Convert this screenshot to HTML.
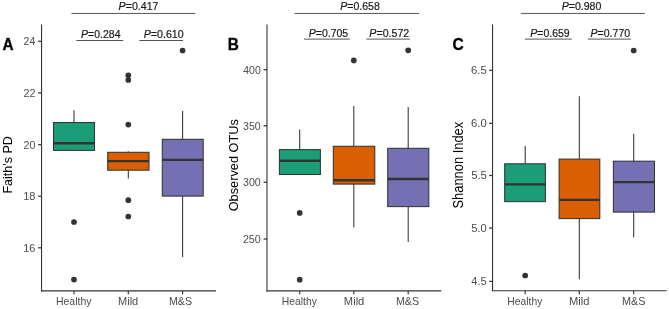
<!DOCTYPE html>
<html><head><meta charset="utf-8"><style>
html,body{margin:0;padding:0;background:#fff;}
svg{display:block;will-change:transform;}
text{font-family:'Liberation Sans', sans-serif;}
</style></head><body>
<svg width="669" height="309" viewBox="0 0 669 309">
<rect width="669" height="309" fill="#fff"/>
<text x="2.62" y="50" font-size="16.28" textLength="11.09" lengthAdjust="spacingAndGlyphs" fill="#000" font-weight="bold" stroke="#000" stroke-width="0.3">A</text>
<text transform="translate(12.2 193.53) rotate(-90)" x="0" y="0" font-size="12.56" textLength="57.33" lengthAdjust="spacingAndGlyphs" fill="#000">Faith's PD</text>
<text x="23.57" y="45.1" font-size="10.6" textLength="11.74" lengthAdjust="spacingAndGlyphs" fill="#4D4D4D">24</text>
<line x1="38.15" y1="41.3" x2="41.55" y2="41.3" stroke="#333333" stroke-width="1.25"/>
<text x="23.56" y="96.7" font-size="10.6" textLength="11.98" lengthAdjust="spacingAndGlyphs" fill="#4D4D4D">22</text>
<line x1="38.15" y1="92.9" x2="41.55" y2="92.9" stroke="#333333" stroke-width="1.25"/>
<text x="23.56" y="148.5" font-size="10.6" textLength="11.85" lengthAdjust="spacingAndGlyphs" fill="#4D4D4D">20</text>
<line x1="38.15" y1="144.7" x2="41.55" y2="144.7" stroke="#333333" stroke-width="1.25"/>
<text x="23.26" y="200" font-size="10.6" textLength="12.21" lengthAdjust="spacingAndGlyphs" fill="#4D4D4D">18</text>
<line x1="38.15" y1="196.2" x2="41.55" y2="196.2" stroke="#333333" stroke-width="1.25"/>
<text x="23.26" y="251.6" font-size="10.6" textLength="12.22" lengthAdjust="spacingAndGlyphs" fill="#4D4D4D">16</text>
<line x1="38.15" y1="247.8" x2="41.55" y2="247.8" stroke="#333333" stroke-width="1.25"/>
<line x1="74" y1="290.9" x2="74" y2="294.3" stroke="#333333" stroke-width="1.15"/>
<text x="56.04" y="304.8" font-size="11.04" textLength="35.38" lengthAdjust="spacingAndGlyphs" fill="#4D4D4D">Healthy</text>
<line x1="128.3" y1="290.9" x2="128.3" y2="294.3" stroke="#333333" stroke-width="1.15"/>
<text x="118" y="304.7" font-size="10.9" textLength="20.22" lengthAdjust="spacingAndGlyphs" fill="#4D4D4D">Mild</text>
<line x1="182.6" y1="290.9" x2="182.6" y2="294.3" stroke="#333333" stroke-width="1.15"/>
<text x="168.93" y="304.7" font-size="11.17" textLength="23.06" lengthAdjust="spacingAndGlyphs" fill="#4D4D4D">M&amp;S</text>
<line x1="74" y1="110.3" x2="74" y2="122.5" stroke="#333333" stroke-width="1.05"/>
<rect x="53.5" y="122.5" width="41" height="27.9" fill="#1B9E77" stroke="#333333" stroke-width="1.05"/>
<line x1="53.5" y1="143.3" x2="94.5" y2="143.3" stroke="#333333" stroke-width="2.4"/>
<circle cx="74" cy="222" r="2.85" fill="#333333"/>
<circle cx="74" cy="279.6" r="2.85" fill="#333333"/>
<line x1="128.3" y1="151.3" x2="128.3" y2="152.3" stroke="#333333" stroke-width="1.05"/>
<line x1="128.3" y1="170.2" x2="128.3" y2="178.4" stroke="#333333" stroke-width="1.05"/>
<rect x="107.7" y="152.3" width="41.3" height="17.9" fill="#D95F02" stroke="#333333" stroke-width="1.05"/>
<line x1="107.7" y1="161.1" x2="149" y2="161.1" stroke="#333333" stroke-width="2.4"/>
<circle cx="128.3" cy="75.3" r="2.85" fill="#333333"/>
<circle cx="128.3" cy="80" r="2.85" fill="#333333"/>
<circle cx="128.3" cy="124.6" r="2.85" fill="#333333"/>
<circle cx="128.3" cy="200.2" r="2.85" fill="#333333"/>
<circle cx="128.3" cy="216.5" r="2.85" fill="#333333"/>
<line x1="182.6" y1="111" x2="182.6" y2="139.3" stroke="#333333" stroke-width="1.05"/>
<line x1="182.6" y1="196.1" x2="182.6" y2="256.9" stroke="#333333" stroke-width="1.05"/>
<rect x="162.3" y="139.3" width="40.9" height="56.8" fill="#7570B3" stroke="#333333" stroke-width="1.05"/>
<line x1="162.3" y1="159.9" x2="203.2" y2="159.9" stroke="#333333" stroke-width="2.4"/>
<circle cx="182.6" cy="50.5" r="2.85" fill="#333333"/>
<line x1="41.55" y1="24.5" x2="41.55" y2="291.45" stroke="#333333" stroke-width="1.1"/>
<line x1="41" y1="290.9" x2="216" y2="290.9" stroke="#333333" stroke-width="1.1"/>
<line x1="71.4" y1="13.45" x2="195.3" y2="13.45" stroke="#555" stroke-width="1"/>
<text x="118.57" y="9.9" font-size="11.17" textLength="39.96" lengthAdjust="spacingAndGlyphs" fill="#1a1a1a" stroke="#1a1a1a" stroke-width="0.2"><tspan font-style="italic">P</tspan>=0.417</text>
<line x1="76.3" y1="40.5" x2="123.2" y2="40.5" stroke="#555" stroke-width="1"/>
<text x="81.08" y="37.7" font-size="10.45" textLength="39.43" lengthAdjust="spacingAndGlyphs" fill="#1a1a1a" stroke="#1a1a1a" stroke-width="0.2"><tspan font-style="italic">P</tspan>=0.284</text>
<line x1="139.4" y1="40.5" x2="183" y2="40.5" stroke="#555" stroke-width="1"/>
<text x="143.67" y="37.7" font-size="10.45" textLength="40.04" lengthAdjust="spacingAndGlyphs" fill="#1a1a1a" stroke="#1a1a1a" stroke-width="0.2"><tspan font-style="italic">P</tspan>=0.610</text>
<text x="227.67" y="49.7" font-size="16.13" textLength="11.13" lengthAdjust="spacingAndGlyphs" fill="#000" font-weight="bold" stroke="#000" stroke-width="0.3">B</text>
<text transform="translate(237.7 211.3) rotate(-90)" x="0" y="0" font-size="12.97" textLength="92.17" lengthAdjust="spacingAndGlyphs" fill="#000">Observed OTUs</text>
<text x="243.26" y="73.5" font-size="10.6" textLength="17.45" lengthAdjust="spacingAndGlyphs" fill="#4D4D4D">400</text>
<line x1="263.6" y1="69.7" x2="267" y2="69.7" stroke="#333333" stroke-width="1.25"/>
<text x="243.1" y="129.6" font-size="10.6" textLength="17.61" lengthAdjust="spacingAndGlyphs" fill="#4D4D4D">350</text>
<line x1="263.6" y1="125.8" x2="267" y2="125.8" stroke="#333333" stroke-width="1.25"/>
<text x="243.1" y="186" font-size="10.6" textLength="17.61" lengthAdjust="spacingAndGlyphs" fill="#4D4D4D">300</text>
<line x1="263.6" y1="182.2" x2="267" y2="182.2" stroke="#333333" stroke-width="1.25"/>
<text x="242.96" y="242.8" font-size="10.6" textLength="17.75" lengthAdjust="spacingAndGlyphs" fill="#4D4D4D">250</text>
<line x1="263.6" y1="239" x2="267" y2="239" stroke="#333333" stroke-width="1.25"/>
<line x1="299.7" y1="290.9" x2="299.7" y2="294.3" stroke="#333333" stroke-width="1.15"/>
<text x="281.75" y="304.8" font-size="11.04" textLength="35.17" lengthAdjust="spacingAndGlyphs" fill="#4D4D4D">Healthy</text>
<line x1="353.8" y1="290.9" x2="353.8" y2="294.3" stroke="#333333" stroke-width="1.15"/>
<text x="343.89" y="304.7" font-size="10.9" textLength="20.43" lengthAdjust="spacingAndGlyphs" fill="#4D4D4D">Mild</text>
<line x1="408.2" y1="290.9" x2="408.2" y2="294.3" stroke="#333333" stroke-width="1.15"/>
<text x="395.92" y="304.7" font-size="11.17" textLength="23.27" lengthAdjust="spacingAndGlyphs" fill="#4D4D4D">M&amp;S</text>
<line x1="299.7" y1="129.5" x2="299.7" y2="149.6" stroke="#333333" stroke-width="1.05"/>
<rect x="279.4" y="149.6" width="41" height="24.9" fill="#1B9E77" stroke="#333333" stroke-width="1.05"/>
<line x1="279.4" y1="160.7" x2="320.4" y2="160.7" stroke="#333333" stroke-width="2.4"/>
<circle cx="299.7" cy="212.9" r="2.85" fill="#333333"/>
<circle cx="299.7" cy="279.7" r="2.85" fill="#333333"/>
<line x1="353.8" y1="106.1" x2="353.8" y2="146.3" stroke="#333333" stroke-width="1.05"/>
<line x1="353.8" y1="184.1" x2="353.8" y2="227.6" stroke="#333333" stroke-width="1.05"/>
<rect x="333.3" y="146.3" width="41.5" height="37.8" fill="#D95F02" stroke="#333333" stroke-width="1.05"/>
<line x1="333.3" y1="180.2" x2="374.8" y2="180.2" stroke="#333333" stroke-width="2.4"/>
<circle cx="353.8" cy="60.4" r="2.85" fill="#333333"/>
<line x1="408.2" y1="107" x2="408.2" y2="148.3" stroke="#333333" stroke-width="1.05"/>
<line x1="408.2" y1="206.6" x2="408.2" y2="242.1" stroke="#333333" stroke-width="1.05"/>
<rect x="387.7" y="148.3" width="41.1" height="58.3" fill="#7570B3" stroke="#333333" stroke-width="1.05"/>
<line x1="387.7" y1="179" x2="428.8" y2="179" stroke="#333333" stroke-width="2.4"/>
<circle cx="408.2" cy="50.3" r="2.85" fill="#333333"/>
<line x1="267" y1="24.5" x2="267" y2="291.45" stroke="#333333" stroke-width="1.1"/>
<line x1="266.45" y1="290.9" x2="441.3" y2="290.9" stroke="#333333" stroke-width="1.1"/>
<line x1="294.6" y1="13.45" x2="419" y2="13.45" stroke="#555" stroke-width="1"/>
<text x="340.28" y="9.8" font-size="10.74" textLength="39.48" lengthAdjust="spacingAndGlyphs" fill="#1a1a1a" stroke="#1a1a1a" stroke-width="0.2"><tspan font-style="italic">P</tspan>=0.658</text>
<line x1="303.9" y1="39.1" x2="349.8" y2="39.1" stroke="#555" stroke-width="1"/>
<text x="308.78" y="36.8" font-size="11.03" textLength="39.36" lengthAdjust="spacingAndGlyphs" fill="#1a1a1a" stroke="#1a1a1a" stroke-width="0.2"><tspan font-style="italic">P</tspan>=0.705</text>
<line x1="366.4" y1="39.1" x2="409.9" y2="39.1" stroke="#555" stroke-width="1"/>
<text x="369.37" y="36.8" font-size="11.03" textLength="39.86" lengthAdjust="spacingAndGlyphs" fill="#1a1a1a" stroke="#1a1a1a" stroke-width="0.2"><tspan font-style="italic">P</tspan>=0.572</text>
<text x="452.46" y="49.9" font-size="16.33" textLength="11.27" lengthAdjust="spacingAndGlyphs" fill="#000" font-weight="bold" stroke="#000" stroke-width="0.3">C</text>
<text transform="translate(463.2 208.49) rotate(-90)" x="0" y="0" font-size="14.9" textLength="86.72" lengthAdjust="spacingAndGlyphs" fill="#000">Shannon Index</text>
<text x="471.02" y="74.1" font-size="10.6" textLength="15.75" lengthAdjust="spacingAndGlyphs" fill="#4D4D4D">6.5</text>
<line x1="489.15" y1="70.3" x2="492.55" y2="70.3" stroke="#333333" stroke-width="1.25"/>
<text x="471.03" y="127.1" font-size="10.6" textLength="15.72" lengthAdjust="spacingAndGlyphs" fill="#4D4D4D">6.0</text>
<line x1="489.15" y1="123.3" x2="492.55" y2="123.3" stroke="#333333" stroke-width="1.25"/>
<text x="471.15" y="179.3" font-size="10.76" textLength="15.62" lengthAdjust="spacingAndGlyphs" fill="#4D4D4D">5.5</text>
<line x1="489.15" y1="175.5" x2="492.55" y2="175.5" stroke="#333333" stroke-width="1.25"/>
<text x="471.15" y="231.9" font-size="10.6" textLength="15.59" lengthAdjust="spacingAndGlyphs" fill="#4D4D4D">5.0</text>
<line x1="489.15" y1="228.1" x2="492.55" y2="228.1" stroke="#333333" stroke-width="1.25"/>
<text x="471.35" y="285.2" font-size="10.76" textLength="15.42" lengthAdjust="spacingAndGlyphs" fill="#4D4D4D">4.5</text>
<line x1="489.15" y1="281.4" x2="492.55" y2="281.4" stroke="#333333" stroke-width="1.25"/>
<line x1="525.2" y1="290.8" x2="525.2" y2="294.2" stroke="#333333" stroke-width="1.15"/>
<text x="507.25" y="304.8" font-size="11.04" textLength="35.07" lengthAdjust="spacingAndGlyphs" fill="#4D4D4D">Healthy</text>
<line x1="579.3" y1="290.8" x2="579.3" y2="294.2" stroke="#333333" stroke-width="1.15"/>
<text x="568.99" y="304.7" font-size="10.9" textLength="20.43" lengthAdjust="spacingAndGlyphs" fill="#4D4D4D">Mild</text>
<line x1="633.7" y1="290.8" x2="633.7" y2="294.2" stroke="#333333" stroke-width="1.15"/>
<text x="622.01" y="304.7" font-size="11.17" textLength="23.38" lengthAdjust="spacingAndGlyphs" fill="#4D4D4D">M&amp;S</text>
<line x1="525.2" y1="146.1" x2="525.2" y2="163.8" stroke="#333333" stroke-width="1.05"/>
<rect x="504.7" y="163.8" width="40.7" height="37.8" fill="#1B9E77" stroke="#333333" stroke-width="1.05"/>
<line x1="504.7" y1="184.4" x2="545.4" y2="184.4" stroke="#333333" stroke-width="2.4"/>
<circle cx="525.2" cy="275.5" r="2.85" fill="#333333"/>
<line x1="579.3" y1="96.3" x2="579.3" y2="159.1" stroke="#333333" stroke-width="1.05"/>
<line x1="579.3" y1="218.6" x2="579.3" y2="279.3" stroke="#333333" stroke-width="1.05"/>
<rect x="559.1" y="159.1" width="40.7" height="59.5" fill="#D95F02" stroke="#333333" stroke-width="1.05"/>
<line x1="559.1" y1="199.9" x2="599.8" y2="199.9" stroke="#333333" stroke-width="2.4"/>
<line x1="633.7" y1="133.7" x2="633.7" y2="161.2" stroke="#333333" stroke-width="1.05"/>
<line x1="633.7" y1="212.1" x2="633.7" y2="237.4" stroke="#333333" stroke-width="1.05"/>
<rect x="613.4" y="161.2" width="41.1" height="50.9" fill="#7570B3" stroke="#333333" stroke-width="1.05"/>
<line x1="613.4" y1="182.1" x2="654.5" y2="182.1" stroke="#333333" stroke-width="2.4"/>
<circle cx="633.7" cy="50.5" r="2.85" fill="#333333"/>
<line x1="492.55" y1="24.5" x2="492.55" y2="291.35" stroke="#333333" stroke-width="1.1"/>
<line x1="492" y1="290.8" x2="666.8" y2="290.8" stroke="#333333" stroke-width="1.1"/>
<line x1="521" y1="13.45" x2="644.8" y2="13.45" stroke="#555" stroke-width="1"/>
<text x="561.67" y="9.8" font-size="10.74" textLength="39.74" lengthAdjust="spacingAndGlyphs" fill="#1a1a1a" stroke="#1a1a1a" stroke-width="0.2"><tspan font-style="italic">P</tspan>=0.980</text>
<line x1="524.9" y1="39.1" x2="571.8" y2="39.1" stroke="#555" stroke-width="1"/>
<text x="530.28" y="36.8" font-size="11.46" textLength="39.42" lengthAdjust="spacingAndGlyphs" fill="#1a1a1a" stroke="#1a1a1a" stroke-width="0.2"><tspan font-style="italic">P</tspan>=0.659</text>
<line x1="587.8" y1="39.1" x2="631" y2="39.1" stroke="#555" stroke-width="1"/>
<text x="590.58" y="36.8" font-size="11.46" textLength="39.54" lengthAdjust="spacingAndGlyphs" fill="#1a1a1a" stroke="#1a1a1a" stroke-width="0.2"><tspan font-style="italic">P</tspan>=0.770</text>
</svg>
</body></html>
